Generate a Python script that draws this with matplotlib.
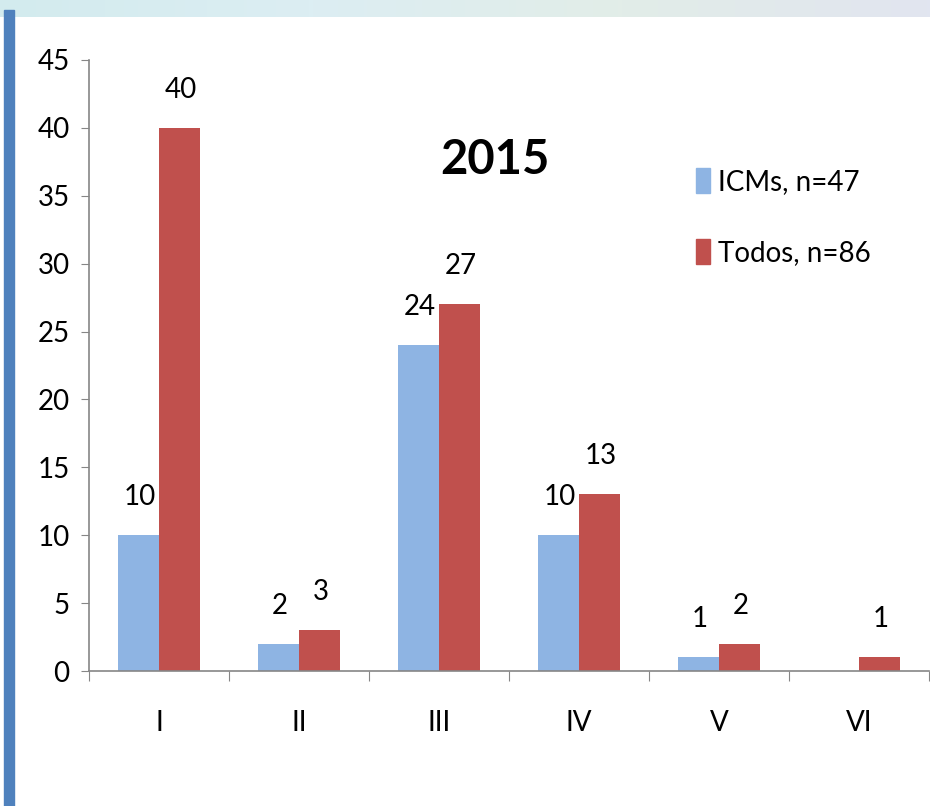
import numpy as np
import matplotlib.pyplot as plt
from matplotlib.patches import Rectangle, Patch
from matplotlib.colors import LinearSegmentedColormap

plt.rcParams['font.family'] = ['Lato', 'DejaVu Sans']

# Data
categories = ['I', 'II', 'III', 'IV', 'V', 'VI']
icms = [10, 2, 24, 10, 1, 0]
todos = [40, 3, 27, 13, 2, 1]

blue = '#8EB4E3'
red = '#C0504D'

fig = plt.figure(figsize=(9.3, 8.06), dpi=100)
ax = fig.add_axes([89/930, 1 - 671/806, 840/930, 611/806])

x = np.arange(len(categories))
w = 0.29
b1 = ax.bar(x - w/2, icms, w, color=blue, label='ICMs, n=47')
b2 = ax.bar(x + w/2, todos, w, color=red, label='Todos, n=86')

# data labels (skip zeros)
for bars, vals in [(b1, icms), (b2, todos)]:
    for rect, v in zip(bars, vals):
        if v == 0:
            continue
        ax.annotate(str(v), (rect.get_x() + rect.get_width()/2, v),
                    xytext=(1, 18), textcoords='offset points',
                    ha='center', va='bottom', fontsize=20)

ax.set_xlim(-0.5, len(categories) - 0.5)
ax.set_ylim(0, 45)
ax.set_yticks(np.arange(0, 46, 5))
ax.tick_params(axis='y', labelsize=20, length=6, color='#868686', pad=8)

# category labels between boundary ticks
ax.set_xticks(np.arange(-0.5, len(categories), 1))
ax.set_xticklabels([])
ax.set_xticks(x, minor=True)
ax.set_xticklabels(categories, minor=True, fontsize=20)
ax.tick_params(axis='x', which='major', length=7, color='#868686')
ax.tick_params(axis='x', which='minor', length=0, pad=28)

for s in ['top', 'right']:
    ax.spines[s].set_visible(False)
for s in ['left', 'bottom']:
    ax.spines[s].set_color('#868686')
    ax.spines[s].set_linewidth(1.2)

fig.text(495/930, 1 - 160/806, '2015', ha='center', va='center',
         fontsize=34, fontweight='bold')

ax.legend(handles=[Patch(color=blue), Patch(color=red)],
          labels=['ICMs, n=47', 'Todos, n=86'],
          loc='upper left', bbox_to_anchor=(671/930, 1 - 143/806),
          bbox_transform=fig.transFigure, frameon=False, fontsize=20,
          handlelength=0.5, handleheight=1.0, handletextpad=0.3,
          labelspacing=1.6)

# slide decoration: top gradient band and left blue bar
grad = np.linspace(0, 1, 256).reshape(1, -1)
band = fig.add_axes([0, 1 - 17/806, 1, 17/806])
band.imshow(grad, aspect='auto', cmap=LinearSegmentedColormap.from_list(
    'b', ['#D3EBEE', '#DCEEF3', '#E2EDE8', '#E1E5F0']))
band.axis('off')
fig.add_artist(Rectangle((4/930, 0), 10/930, 1 - 10/806,
                         transform=fig.transFigure, color='#4F81BD'))

fig.savefig('out.png', dpi=100)
